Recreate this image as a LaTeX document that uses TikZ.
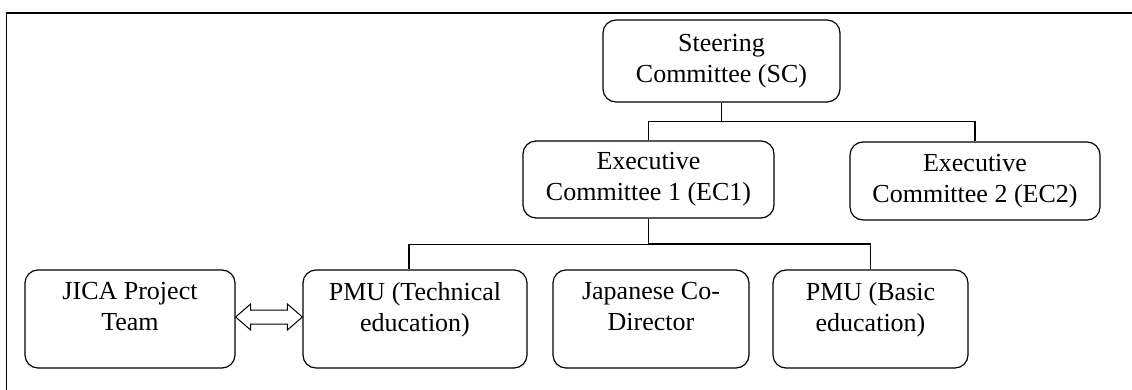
\documentclass[tikz,border=0pt]{standalone}
\usepackage{fontspec}
\setmainfont{Liberation Serif}
\usetikzlibrary{calc}
\begin{document}
\begin{tikzpicture}[x=1pt,y=-1pt,
  box/.style={draw,line width=1.2pt,rounded corners=13pt,inner sep=0pt},
  lbl/.style={align=center,inner sep=0pt,font=\fontsize{26}{31}\selectfont},
  conn/.style={line width=1.2pt}]
\useasboundingbox (0,0) rectangle (1132,390);
% outer frame
\draw[line width=1.3pt] (6.5,390) -- (6.5,13) -- (1132,13);
% boxes
\node[box,minimum width=237pt,minimum height=82pt,lbl] (sc) at (721.5,61) {Steering\\Committee (SC)};
\node[box,minimum width=251pt,minimum height=77pt,lbl] (ec1) at (648.5,179.5) {Executive\\Committee 1 (EC1)};
\node[box,minimum width=250pt,minimum height=78pt,lbl] (ec2) at (975,181) {Executive\\Committee 2 (EC2)};
\node[box,minimum width=210pt,minimum height=98pt] (jica) at (130,319) {};
\node[box,minimum width=224pt,minimum height=98pt] (pmut) at (415,319) {};
\node[box,minimum width=196pt,minimum height=98pt] (jap) at (651,319) {};
\node[box,minimum width=195pt,minimum height=98pt] (pmub) at (870.5,319) {};
\node[lbl,anchor=north] (tjica) at ([yshift=-13pt]jica.north) {JICA Project\\Team};
\node[lbl,anchor=north] (tpmut) at ([yshift=-13pt]pmut.north) {PMU (Technical\\education)};
\node[lbl,anchor=north] (tjap) at ([yshift=-13pt]jap.north) {Japanese Co-\\Director};
\node[lbl,anchor=north] (tpmub) at ([yshift=-13pt]pmub.north) {PMU (Basic\\education)};
% connectors top
\draw[conn] (sc.south) -- ++(0,19) coordinate (j1);
\draw[conn] (ec1.north) |- (j1) -| (ec2.north);
% connectors bottom
\draw[conn] (ec1.south) -- ++(0,25.5) coordinate (j2);
\coordinate (pl) at ([xshift=-6pt]pmut.north);
\draw[conn] (pl) |- (j2) -| (pmub.north);
\draw[line width=1.2pt] ([yshift=1pt]j2) -- ([yshift=1pt]j2 -| pmub.north);
% double arrow
\coordinate (aL) at ([yshift=2pt]jica.east);
\coordinate (aR) at ([yshift=2pt]pmut.west);
\draw[line width=1pt,fill=white] (aL) -- ++(15,-13) -- ++(0,6) -- ($(aR)+(-15,-7)$) -- ++(0,-6) -- (aR) -- ++(-15,13) -- ++(0,-6) -- ($(aL)+(15,7)$) -- ++(0,6) -- cycle;
\end{tikzpicture}
\end{document}
